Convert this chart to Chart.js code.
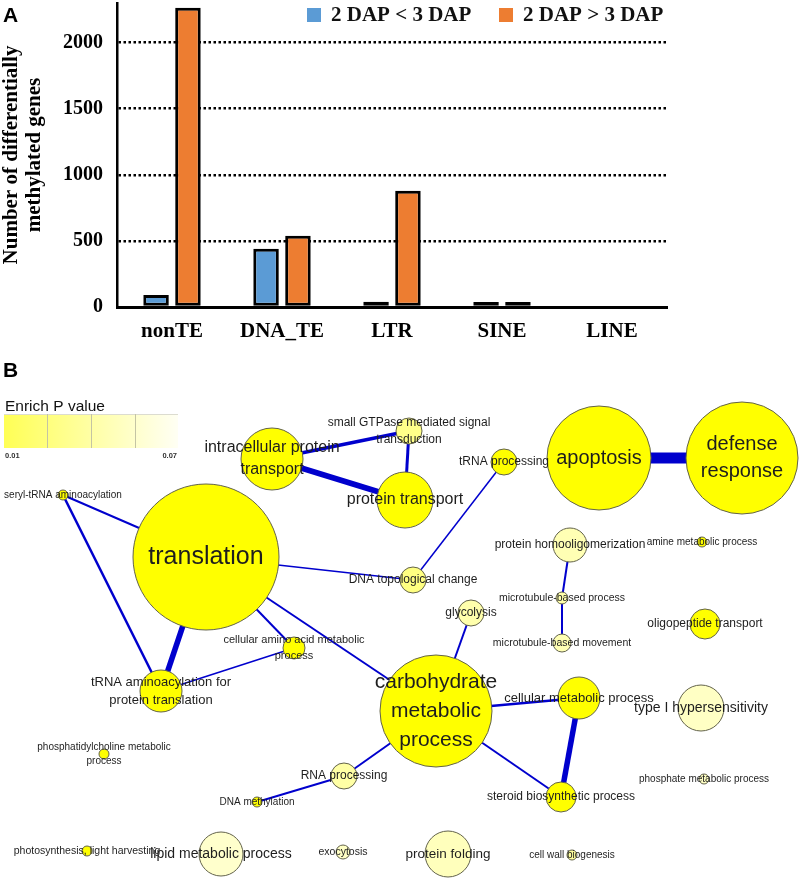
<!DOCTYPE html>
<html>
<head>
<meta charset="utf-8">
<script src="https://cdn.jsdelivr.net/npm/chart.js@4.4.0/dist/chart.umd.min.js"></script>
<style>
  html, body { margin: 0; padding: 0; background: #fff; }
  #wrap { position: relative; width: 800px; height: 880px; overflow: hidden; }
  #barChart { position: absolute; left: 0; top: 0; }
  #netChart { position: absolute; left: 0; top: 345px; }
</style>
</head>
<body>
<div id="wrap">
  <canvas id="barChart" width="800" height="345"></canvas>
  <canvas id="netChart" width="800" height="535"></canvas>
</div>
<script>
// ---- Panel A data ----
const categories = ['nonTE', 'DNA_TE', 'LTR', 'SINE', 'LINE'];
const seriesNames = ['2 DAP < 3 DAP', '2 DAP > 3 DAP'];
const lessCounts = [90, 440, 40, 38, 0];     // 2 DAP < 3 DAP
const moreCounts = [2265, 540, 880, 38, 0];  // 2 DAP > 3 DAP
const yTicks = [0, 500, 1000, 1500, 2000];

// ---- Panel B data (GO enrichment network, layout coords) ----
const goTerms = [
  'translation', 'intracellular protein transport', 'protein transport',
  'small GTPase mediated signal transduction', 'tRNA processing', 'apoptosis',
  'defense response', 'seryl-tRNA aminoacylation', 'DNA topological change',
  'protein homooligomerization', 'amine metabolic process', 'microtubule-based process',
  'microtubule-based movement', 'glycolysis', 'oligopeptide transport',
  'cellular amino acid metabolic process', 'tRNA aminoacylation for protein translation',
  'carbohydrate metabolic process', 'cellular metabolic process', 'type I hypersensitivity',
  'phosphatidylcholine metabolic process', 'RNA processing', 'phosphate metabolic process',
  'steroid biosynthetic process', 'DNA methylation', 'photosynthesis, light harvesting',
  'lipid metabolic process', 'exocytosis', 'protein folding', 'cell wall biogenesis'
];
const goX = [206, 272, 405, 409, 504, 599, 742, 63, 413, 570, 702, 562, 562, 471, 705,
             294, 161, 436, 579, 701, 104, 344, 704, 561, 257, 87, 221, 343, 448, 572];
const goY = [557, 459, 500, 431, 462, 458, 458, 495, 580, 545, 542, 598, 643, 613, 624,
             648, 691, 711, 698, 708, 754, 776, 779, 797, 802, 851, 854, 852, 854, 855];
const goSize = [73, 31, 28, 13, 13, 52, 56, 5, 13, 17, 5, 6, 9, 13, 15,
                11, 21, 56, 21, 23, 5, 13, 5, 15, 5, 5, 22, 7, 23, 5];
const goP = [0.01, 0.01, 0.01, 0.045, 0.01, 0.01, 0.01, 0.01, 0.043, 0.056, 0.01, 0.054, 0.056, 0.054, 0.01,
             0.01, 0.01, 0.01, 0.01, 0.06, 0.01, 0.052, 0.06, 0.01, 0.01, 0.01, 0.062, 0.06, 0.058, 0.05];

const edgeFrom = [
  'translation', 'seryl-tRNA aminoacylation', 'translation', 'translation', 'translation',
  'translation', 'tRNA aminoacylation for protein translation', 'intracellular protein transport',
  'intracellular protein transport', 'small GTPase mediated signal transduction', 'tRNA processing',
  'apoptosis', 'protein homooligomerization', 'microtubule-based process', 'glycolysis',
  'carbohydrate metabolic process', 'carbohydrate metabolic process', 'cellular metabolic process',
  'carbohydrate metabolic process', 'RNA processing'
];
const edgeTo = [
  'seryl-tRNA aminoacylation', 'tRNA aminoacylation for protein translation',
  'tRNA aminoacylation for protein translation', 'DNA topological change',
  'cellular amino acid metabolic process', 'carbohydrate metabolic process',
  'cellular amino acid metabolic process', 'small GTPase mediated signal transduction',
  'protein transport', 'protein transport', 'DNA topological change', 'defense response',
  'microtubule-based process', 'microtubule-based movement', 'carbohydrate metabolic process',
  'cellular metabolic process', 'steroid biosynthetic process', 'steroid biosynthetic process',
  'RNA processing', 'DNA methylation'
];
const edgeWeight = [2, 2.5, 5.5, 1.5, 2, 2, 1.5, 3.5, 6, 3, 1.5, 11, 2, 2, 2, 2.5, 2, 5.5, 2, 2];

// ---- styles ----
const serif = '"Liberation Serif", "Times New Roman", serif';
const sans = '"Liberation Sans", Arial, sans-serif';

// label font size and line wrapping for the network
const labelSize = [25, 16, 16, 12, 12, 20, 20, 10, 12, 12, 10, 10.5, 10.5, 12, 12,
                   11, 13, 21, 13, 14, 10, 12, 10, 12, 10, 10.5, 14, 10.5, 13.5, 10];
const wrapped = {
  'intracellular protein transport': ['intracellular protein', 'transport'],
  'small GTPase mediated signal transduction': ['small GTPase mediated signal', 'transduction'],
  'defense response': ['defense', 'response'],
  'cellular amino acid metabolic process': ['cellular amino acid metabolic', 'process'],
  'tRNA aminoacylation for protein translation': ['tRNA aminoacylation for', 'protein translation'],
  'carbohydrate metabolic process': ['carbohydrate', 'metabolic', 'process'],
  'phosphatidylcholine metabolic process': ['phosphatidylcholine metabolic', 'process']
};

function pColor(p) {
  const t = Math.min(1, Math.max(0, (p - 0.01) / 0.06));
  return 'rgb(255,255,' + Math.round(t * 235) + ')';
}

const panelLetter = {
  id: 'panelLetter',
  afterDraw(chart, args, opts) {
    const ctx = chart.ctx;
    ctx.save();
    ctx.font = 'bold 21px ' + sans;
    ctx.fillStyle = '#000';
    ctx.textBaseline = 'alphabetic';
    ctx.fillText(opts.text, opts.x, opts.y);
    ctx.restore();
  }
};

const barLegend = {
  id: 'barLegend',
  afterDraw(chart) {
    const ctx = chart.ctx;
    const xs = [307, 499];
    ctx.save();
    ctx.font = 'bold 21px ' + serif;
    ctx.textBaseline = 'middle';
    chart.data.datasets.forEach((ds, i) => {
      ctx.fillStyle = ds.backgroundColor;
      ctx.fillRect(xs[i], 8, 14, 14);
      ctx.fillStyle = '#111';
      ctx.fillText(ds.label, xs[i] + 24, 16);
    });
    ctx.restore();
  }
};

new Chart(document.getElementById('barChart'), {
  type: 'bar',
  data: {
    labels: categories,
    datasets: [
      { label: seriesNames[0], data: lessCounts, backgroundColor: '#5b9bd5' },
      { label: seriesNames[1], data: moreCounts, backgroundColor: '#ed7d31' }
    ]
  },
  options: {
    responsive: false,
    animation: false,
    events: [],
    layout: { autoPadding: false, padding: { top: 3, right: 133, left: 0, bottom: 0 } },
    datasets: {
      bar: {
        borderColor: '#000',
        borderWidth: 3,
        borderSkipped: false,
        categoryPercentage: 0.58,
        barPercentage: 0.8
      }
    },
    plugins: {
      legend: { display: false },
      tooltip: { enabled: false },
      panelLetter: { text: 'A', x: 3, y: 22 }
    },
    scales: {
      x: {
        grid: { display: false },
        border: { display: true, color: '#000', width: 3 },
        ticks: { color: '#000', font: { family: serif, size: 21, weight: 'bold' }, padding: 4 },
        afterFit: s => { s.height = 38; s.paddingLeft = 0; s.paddingRight = 0; }
      },
      y: {
        min: 0,
        max: 2300,
        afterBuildTicks: s => { s.ticks = yTicks.map(v => ({ value: v })); },
        grid: {
          color: c => (c.tick && c.tick.value === 0) ? 'rgba(0,0,0,0)' : '#000',
          lineWidth: 2.5,
          drawTicks: false
        },
        border: { display: true, color: '#000', width: 2.5, dash: [2.5, 2.5] },
        ticks: {
          color: '#000',
          font: { family: serif, size: 20, weight: 'bold' },
          padding: 14,
          callback: v => String(v)
        },
        title: {
          display: true,
          text: ['Number of differentially', 'methylated genes'],
          color: '#000',
          font: { family: serif, size: 21, weight: 'bold', lineHeight: 1.1 },
          padding: 0
        },
        afterFit: s => { s.width = 117; s.paddingTop = 0; s.paddingBottom = 0; }
      }
    }
  },
  plugins: [barLegend, panelLetter]
});

// ---- Panel B ----
const TOP = 345;

const goLabels = {
  id: 'goLabels',
  afterDatasetsDraw(chart) {
    const ctx = chart.ctx;
    const meta = chart.getDatasetMeta(0);
    ctx.save();
    ctx.fillStyle = '#1e1e1e';
    ctx.textAlign = 'center';
    ctx.textBaseline = 'middle';
    goTerms.forEach((term, i) => {
      const el = meta.data[i];
      const size = labelSize[i];
      const lines = wrapped[term] || [term];
      const lh = size * 1.38;
      ctx.font = size + 'px ' + sans;
      const y0 = el.y - (lines.length - 1) * lh / 2;
      lines.forEach((ln, k) => ctx.fillText(ln, el.x, y0 + k * lh));
    });
    ctx.restore();
  },
  afterDraw(chart) {
    const ctx = chart.ctx;
    ctx.save();
    // panel letter
    ctx.font = 'bold 21px ' + sans;
    ctx.fillStyle = '#000';
    ctx.fillText('B', 3, 377 - TOP);
    // colour key
    ctx.font = '15.5px ' + sans;
    ctx.fillStyle = '#111';
    ctx.fillText('Enrich P value', 5, 411 - TOP);
    const g = ctx.createLinearGradient(4, 0, 178, 0);
    g.addColorStop(0, '#ffff55');
    g.addColorStop(1, '#fffff4');
    ctx.fillStyle = g;
    ctx.fillRect(4, 414 - TOP, 174, 34);
    ctx.strokeStyle = '#dcdcd0';
    ctx.lineWidth = 1;
    ctx.beginPath();
    ctx.moveTo(4, 414.5 - TOP);
    ctx.lineTo(178, 414.5 - TOP);
    ctx.stroke();
    ctx.strokeStyle = '#c4c4a4';
    [47, 91, 135].forEach(x => {
      ctx.beginPath();
      ctx.moveTo(x + 0.5, 414 - TOP);
      ctx.lineTo(x + 0.5, 448 - TOP);
      ctx.stroke();
    });
    ctx.font = 'bold 7.5px ' + sans;
    ctx.fillStyle = '#333';
    ctx.textBaseline = 'middle';
    ctx.fillText('0.01', 5, 456 - TOP);
    ctx.textAlign = 'right';
    ctx.fillText('0.07', 177, 456 - TOP);
    ctx.restore();
  }
};

const nodeDataset = {
  type: 'bubble',
  order: 0,
  clip: false,
  data: goTerms.map((t, i) => ({ x: goX[i], y: goY[i], r: goSize[i] })),
  backgroundColor: goP.map(pColor),
  borderColor: '#62624a',
  borderWidth: 1,
  hoverRadius: 0
};

const edgeDatasets = edgeFrom.map((a, k) => {
  const i = goTerms.indexOf(a);
  const j = goTerms.indexOf(edgeTo[k]);
  return {
    type: 'line',
    order: 1,
    clip: false,
    data: [{ x: goX[i], y: goY[i] }, { x: goX[j], y: goY[j] }],
    borderColor: '#0000cd',
    borderWidth: edgeWeight[k],
    borderCapStyle: 'butt',
    pointRadius: 0,
    fill: false
  };
});

new Chart(document.getElementById('netChart'), {
  type: 'bubble',
  data: { datasets: [nodeDataset].concat(edgeDatasets) },
  options: {
    responsive: false,
    animation: false,
    events: [],
    layout: { autoPadding: false, padding: 0 },
    plugins: { legend: { display: false }, tooltip: { enabled: false } },
    scales: {
      x: { type: 'linear', min: 0, max: 800, display: false },
      y: { type: 'linear', min: TOP, max: 880, reverse: true, display: false }
    }
  },
  plugins: [goLabels]
});
</script>
</body>
</html>
